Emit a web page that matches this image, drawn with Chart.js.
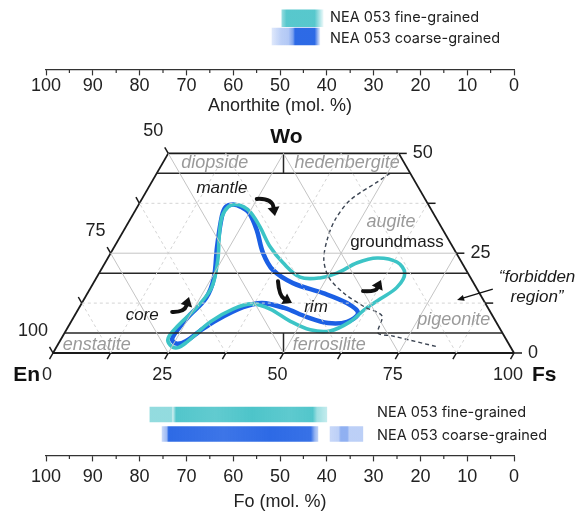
<!DOCTYPE html>
<html lang="en">
<head>
  <meta charset="UTF-8">
  <title>NEA 053 pyroxene and feldspar compositions</title>
  <script src="https://cdn.jsdelivr.net/npm/chart.js"></script>
  <style>
    html, body { margin: 0; padding: 0; background: #fff; }
    body { position: relative; width: 577px; height: 512px; overflow: hidden; }
    canvas { position: absolute; left: 0; }
  </style>
</head>
<body>
  <canvas id="anChart" width="577" height="115" style="top:0"></canvas>
  <canvas id="pxChart" width="577" height="280" style="top:115px"></canvas>
  <canvas id="foChart" width="577" height="117" style="top:395px"></canvas>

<script>
// ---- data ----
const sampleNames = ['NEA 053 fine-grained', 'NEA 053 coarse-grained'];

// plagioclase (An mol. %): bar range and shading density [value, opacity]
const anFine = [40.8, 49.6];
const anFineShade = [[49.6, .55], [48.6, .85], [42.6, .85], [40.8, .12]];
const anCoarse = [41.5, 51.7];
const anCoarseShade = [[51.7, .15], [49.8, .3], [48.2, .35], [47.2, .6], [46.8, .95], [42.6, .95], [41.5, .15]];

// olivine (Fo mol. %)
const foFine = [40.0, 77.8];
const foFineShade = [[77.8, .55], [73.2, .55], [72.9, .25], [72.2, .88], [64, .8], [56, .9], [48, .82], [43, .88], [42.1, .5], [40.0, .3]];
const foCoarse = [41.9, 75.2];
const foCoarseShade = [[75.2, .25], [74.2, .45], [73.8, .95], [62, .88], [52, .95], [43.4, .9], [42.6, .5], [41.9, .3]];
const foCoarse2 = [32.3, 39.3];
const foCoarse2Shade = [[39.3, .25], [37.5, .3], [37.0, .5], [35.6, .5], [35.2, .3], [32.3, .3]];

// pyroxene loops as [Fs, Wo] (mol. %)
const coarseLoop = [[20.45, 37.2], [19.2, 36.6], [19.5, 34.3], [22.3, 26.6], [25.5, 18.8], [26.3, 13.8], [24.7, 8.8], [24.0, 5.0],
  [24.2, 3.3], [25.8, 2.3], [27.4, 3.0], [29.1, 5.5], [31.4, 8.3], [35.5, 11.5], [39.1, 12.5], [44.5, 11.3], [50.6, 9.0],
  [55.9, 7.5], [59.9, 7.8], [61.2, 10.0], [57.5, 12.5], [51.1, 15.0], [43.3, 17.5], [37.3, 20.8], [33.0, 25.1], [28.8, 30.8],
  [25.0, 35.1], [22.5, 36.6]];
const fineLoop = [[21.0, 37.2], [19.7, 36.6], [19.6, 34.1], [21.5, 29.1], [24.1, 23.3], [26.2, 16.5], [25.5, 11.5], [23.7, 6.8],
  [23.1, 3.8], [24.4, 2.0], [26.3, 1.3], [27.7, 2.8], [30.2, 7.8], [33.5, 11.0], [37.0, 12.3], [41.6, 11.0], [47.4, 8.0],
  [52.9, 5.8], [57.3, 5.5], [60.5, 7.8], [62.2, 11.0], [64.2, 13.5], [66.4, 16.5], [66.3, 20.0], [63.2, 22.8], [58.4, 23.8],
  [54.7, 22.6], [51.6, 20.0], [48.5, 18.8], [44.1, 19.0], [38.6, 22.6], [33.8, 26.6], [29.1, 31.6], [25.4, 35.1], [23.1, 36.6]];
// pigeonite/augite "forbidden region" boundary
const boundary = [[50.6, 45], [48.9, 42.8], [45.3, 38.3], [44.5, 33.3], [45.3, 28.3], [47.1, 23.3], [50.5, 18.8], [55.9, 14.8],
  [61.9, 11.5], [66.7, 9.3], [68.0, 5.0], [71.4, 4.3], [82.8, 1.5]];
// zoning arrows [tail, bend, head] as [Fs, Wo]
const zoningArrows = [
  [[24.9, 38.6], [28.1, 38.8], [31.0, 34.3]],
  [[20.7, 10.3], [23.4, 10.2], [22.5, 14.0]],
  [[39.8, 18.0], [41.9, 14.3], [45.6, 12.5]],
  [[59.5, 15.5], [62.3, 15.3], [62.0, 18.3]]
];
const forbiddenArrow = [[87.4, 16.0], [81.0, 13.3]];

// quadrilateral divisions (Wo) and ticks
const divisionsWo = [5, 20, 45];
const gridLevels = [12.5, 25, 37.5, 50, 62.5, 75, 87.5];
const ternTicks = [0, 12.5, 25, 37.5, 50, 62.5, 75, 87.5, 100];
const ternLabels = [0, 25, 50, 75, 100];

const regionNames = [['diopside', 11.3, 47.6], ['hedenbergite', 40.0, 47.6], ['augite', 56.9, 32.8],
  ['pigeonite', 82.8, 8.3], ['enstatite', 8.5, 2.0], ['ferrosilite', 58.9, 2.0]];
const zoneNames = [['mantle', 16.0, 41.3], ['core', 14.6, 9.5], ['rim', 51.3, 11.5]];
const otherNames = [['groundmass', 60.7, 27.8]];
const forbiddenNames = [['\u201cforbidden', 95.5, 19.0], ['region\u201d', 98.0, 14.0]];

// ---- helpers ----
const FONT = "'Liberation Sans', Arial, sans-serif";
Chart.defaults.font.family = FONT;
Chart.defaults.color = '#222';

const TEAL = '58,190,196';
const BLUE = '34,98,228';

const S3 = Math.sqrt(3) / 2;
const tern = (fs, wo) => ({ x: fs + wo / 2, y: wo * S3 });

function shadeFill(rgb) {
  return (ctx) => {
    const chart = ctx.chart;
    const stops = ctx.dataset.shades[ctx.dataIndex];
    if (!chart.chartArea || !stops) return `rgba(${rgb},0.8)`;
    const sx = chart.scales.x;
    const p0 = sx.getPixelForValue(stops[0][0]);
    const p1 = sx.getPixelForValue(stops[stops.length - 1][0]);
    const g = chart.ctx.createLinearGradient(p0, 0, p1, 0);
    stops.forEach(([v, a]) => g.addColorStop(Math.min(1, Math.max(0, (sx.getPixelForValue(v) - p0) / (p1 - p0))), `rgba(${rgb},${a})`));
    return g;
  };
}

function axisOptions(title, tickPad, titleLH) {
  return {
    type: 'linear', min: 0, max: 100, reverse: true, position: 'bottom',
    ticks: { stepSize: 10, padding: tickPad, maxRotation: 0, autoSkip: false, font: { size: 18 }, color: '#222' },
    grid: { drawOnChartArea: false, drawTicks: true, tickLength: 6, tickWidth: 1.2, tickColor: '#333' },
    border: { display: true, color: '#333', width: 1.2 },
    title: { display: true, text: title, font: { size: 18, lineHeight: titleLH }, color: '#222', padding: 0 }
  };
}

// short ticks at the 5s
const minorTicks = {
  id: 'minorTicks',
  afterDraw(chart) {
    const sx = chart.scales.x, c = chart.ctx;
    c.save();
    c.strokeStyle = '#333';
    c.lineWidth = 1.2;
    for (let v = 5; v < 100; v += 10) {
      const px = sx.getPixelForValue(v);
      c.beginPath();
      c.moveTo(px, sx.top);
      c.lineTo(px, sx.top + 3.5);
      c.stroke();
    }
    c.restore();
  }
};

const sideText = {
  id: 'sideText',
  afterDraw(chart, args, opts) {
    const c = chart.ctx;
    c.save();
    c.font = "14.5px Inter, 'Noto Sans', sans-serif";
    c.fillStyle = '#222';
    c.textBaseline = 'middle';
    opts.items.forEach(([t, x, y]) => c.fillText(t, x, y));
    c.restore();
  }
};

function barChart(id, title, bars, rows, tickPad, titleLH, pad, text) {
  return new Chart(document.getElementById(id), {
    type: 'bar',
    data: { datasets: bars },
    options: {
      indexAxis: 'y',
      responsive: false,
      animation: false,
      layout: { padding: pad },
      datasets: { bar: { grouped: false, borderWidth: 0 } },
      scales: {
        x: axisOptions(title, tickPad, titleLH),
        y: { type: 'linear', display: false, min: 0, max: rows, reverse: true, offset: false }
      },
      plugins: { legend: { display: false }, tooltip: { enabled: false }, sideText: { items: text } }
    },
    plugins: [minorTicks, sideText]
  });
}

// ---- anorthite panel ----
barChart('anChart', 'Anorthite (mol. %)', [
  { label: sampleNames[0], data: [{ y: 1, x: anFine }], shades: [anFineShade], backgroundColor: shadeFill(TEAL), barThickness: 17 },
  { label: sampleNames[1], data: [{ y: 2, x: anCoarse }], shades: [anCoarseShade], backgroundColor: shadeFill(BLUE), barThickness: 17 }
], 3.8, 0, 1.0, { left: 46, right: 63, top: 0, bottom: 0 },
  [[sampleNames[0], 330, 18], [sampleNames[1], 330, 39]]);

// ---- olivine panel ----
barChart('foChart', 'Fo (mol. %)', [
  { label: sampleNames[0], data: [{ y: 1, x: foFine }], shades: [foFineShade], backgroundColor: shadeFill(TEAL), barThickness: 15 },
  { label: sampleNames[1], data: [{ y: 2, x: foCoarse }, { y: 2, x: foCoarse2 }], shades: [foCoarseShade, foCoarse2Shade], backgroundColor: shadeFill(BLUE), barThickness: 15 }
], 3.1, 5, 1.0, { left: 46, right: 63, top: 0, bottom: 1 },
  [[sampleNames[0], 377, 18], [sampleNames[1], 377, 41]]);

// ---- pyroxene quadrilateral ----
function seg(pts, style) {
  return Object.assign({
    data: pts.map(([f, w]) => tern(f, w)), showLine: true, pointRadius: 0, tension: 0,
    clip: false, borderWidth: 1, borderColor: '#222', fill: false
  }, style);
}
function loop(pts, color, width) {
  const n = pts.length;
  return {
    data: [pts[n - 1], ...pts, pts[0], pts[1]].map(([f, w]) => tern(f, w)),
    showLine: true, pointRadius: 0, tension: 0.35, clip: false, fill: false,
    borderWidth: width, borderColor: color, borderJoinStyle: 'round',
    segment: { borderColor: (ctx) => (ctx.p0DataIndex === 0 || ctx.p0DataIndex === n + 1) ? 'rgba(0,0,0,0)' : color }
  };
}

const pxSets = [];
gridLevels.forEach(v => {
  const major = v % 25 === 0;
  const st = { borderColor: major ? '#c4c4c4' : '#d4d4d4', borderDash: major ? [] : [3, 3], borderWidth: 1 };
  if (v < 50) pxSets.push(seg([[0, v], [100 - v, v]], st));
  pxSets.push(seg([[v, 0], [v, Math.min(50, 100 - v)]], st));
  const wTop = Math.min(50, v);
  pxSets.push(seg([[v, 0], [v - wTop, wTop]], st));
});
const dark = { borderColor: '#262626', borderWidth: 1.5 };
divisionsWo.forEach(w => pxSets.push(seg([[0, w], [100 - w, w]], dark)));
pxSets.push(seg([[50, 0], [47.5, 5]], dark));
pxSets.push(seg([[27.5, 45], [25, 50]], dark));
const edge = { borderColor: '#1a1a1a', borderWidth: 1.8 };
pxSets.push(seg([[0, 0], [100, 0]], edge));
pxSets.push(seg([[0, 0], [0, 50]], edge));
pxSets.push(seg([[100, 0], [50, 50]], edge));
pxSets.push(seg([[0, 50], [50, 50]], edge));
pxSets.push(seg(boundary, { borderColor: '#3b4452', borderDash: [4, 3], borderWidth: 1.4, tension: 0.3 }));
pxSets.push(loop(fineLoop, '#3cc4c6', 3.6));
pxSets.push(loop(coarseLoop, '#1b5fe4', 4.6));

const ternaryDecor = {
  id: 'ternaryDecor',
  afterDatasetsDraw(chart) {
    const c = chart.ctx;
    const P = (fs, wo) => { const p = tern(fs, wo); return [chart.scales.x.getPixelForValue(p.x), chart.scales.y.getPixelForValue(p.y)]; };
    const txt = (s, x, y, font, color, align) => {
      c.font = font; c.fillStyle = color; c.textAlign = align || 'center'; c.textBaseline = 'middle';
      c.fillText(s, x, y);
    };
    c.save();
    // axis ticks
    c.strokeStyle = '#1a1a1a';
    c.lineWidth = 1.5;
    const tick = (p, dx, dy) => { c.beginPath(); c.moveTo(p[0], p[1]); c.lineTo(p[0] + dx, p[1] + dy); c.stroke(); };
    ternTicks.forEach(v => {
      tick(P(v, 0), -3.5, 6.1);
      if (v <= 50) {
        tick(P(100 - v, v), 8, 0);
        tick(P(0, v), -3.5, -6.1);
      }
    });
    // axis labels
    const f18 = '18px ' + FONT;
    ternLabels.forEach(v => {
      const [x, y] = P(v, 0);
      txt(String(v), x - 6, y + 22, f18, '#222');
      if (v <= 50) {
        const [rx, ry] = P(100 - v, v);
        txt(String(v), rx + 14, ry, f18, '#222', 'left');
        const [lx, ly] = P(0, v);
        txt(String(100 - v), lx - 5, ly - 22, f18, '#222', 'right');
      }
    });
    const fb = 'bold 21px ' + FONT;
    const en = P(0, 0), fs = P(100, 0), wo = P(25, 50);
    txt('En', en[0] - 13, en[1] + 22, fb, '#111', 'right');
    txt('Fs', fs[0] + 18, fs[1] + 22, fb, '#111', 'left');
    txt('Wo', wo[0] + 3, wo[1] - 16, fb, '#111');
    // names
    regionNames.forEach(([s, f, w]) => { const [x, y] = P(f, w); txt(s, x, y, 'italic 18px ' + FONT, '#9a9a9a'); });
    zoneNames.forEach(([s, f, w]) => { const [x, y] = P(f, w); txt(s, x, y, 'italic 17px ' + FONT, '#1a1a1a'); });
    otherNames.forEach(([s, f, w]) => { const [x, y] = P(f, w); txt(s, x, y, '17px ' + FONT, '#1a1a1a'); });
    forbiddenNames.forEach(([s, f, w]) => { const [x, y] = P(f, w); txt(s, x, y, 'italic 17px ' + FONT, '#1a1a1a'); });
    // curved zoning arrows
    c.fillStyle = '#111';
    c.strokeStyle = '#111';
    zoningArrows.forEach(([a, b, e]) => {
      const A = P(...a), B = P(...b), E = P(...e);
      let dx = E[0] - B[0], dy = E[1] - B[1];
      const L = Math.hypot(dx, dy); dx /= L; dy /= L;
      const base = [E[0] - dx * 9, E[1] - dy * 9];
      c.lineWidth = 4; c.lineCap = 'round';
      c.beginPath(); c.moveTo(A[0], A[1]); c.quadraticCurveTo(B[0], B[1], base[0], base[1]); c.stroke();
      c.beginPath();
      c.moveTo(E[0], E[1]);
      c.lineTo(base[0] - dy * 6, base[1] + dx * 6);
      c.lineTo(base[0] + dy * 6, base[1] - dx * 6);
      c.closePath(); c.fill();
    });
    // forbidden-region pointer
    const F0 = P(...forbiddenArrow[0]), F1 = P(...forbiddenArrow[1]);
    let ux = F1[0] - F0[0], uy = F1[1] - F0[1];
    const UL = Math.hypot(ux, uy); ux /= UL; uy /= UL;
    c.lineWidth = 1.3; c.lineCap = 'butt';
    c.beginPath(); c.moveTo(F0[0], F0[1]); c.lineTo(F1[0] - ux * 6, F1[1] - uy * 6); c.stroke();
    c.beginPath();
    c.moveTo(F1[0], F1[1]);
    c.lineTo(F1[0] - ux * 7 - uy * 3, F1[1] - uy * 7 + ux * 3);
    c.lineTo(F1[0] - ux * 7 + uy * 3, F1[1] - uy * 7 - ux * 3);
    c.closePath(); c.fill();
    c.restore();
  }
};

new Chart(document.getElementById('pxChart'), {
  type: 'scatter',
  data: { datasets: pxSets },
  options: {
    responsive: false,
    animation: false,
    layout: { padding: { left: 53, right: 63, top: 38.4, bottom: 42 } },
    scales: {
      x: { type: 'linear', display: false, min: 0, max: 100 },
      y: { type: 'linear', display: false, min: 0, max: 50 * S3 }
    },
    plugins: { legend: { display: false }, tooltip: { enabled: false } }
  },
  plugins: [ternaryDecor]
});
</script>
</body>
</html>
